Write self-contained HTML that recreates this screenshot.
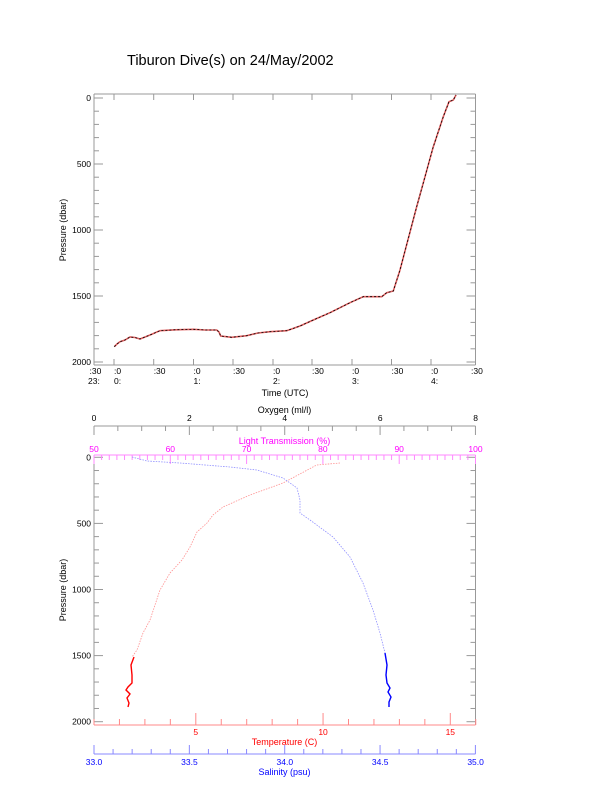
<!DOCTYPE html>
<html><head><meta charset="utf-8"><style>
html,body{margin:0;padding:0;background:#fff}
svg{display:block}
text{font-family:"Liberation Sans",Arial,sans-serif}
</style></head><body>
<svg id="s" width="612" height="785" viewBox="0 0 612 785" xmlns="http://www.w3.org/2000/svg">
<rect width="612" height="785" fill="#fff"/>
<text x="127" y="65" font-size="14.5" fill="#000">Tiburon Dive(s) on 24/May/2002</text>
<g id="g"></g>
</svg>
<script>
var g=document.getElementById('g'),h='';
function L(x1,y1,x2,y2,c,w){h+='<line x1="'+x1+'" y1="'+y1+'" x2="'+x2+'" y2="'+y2+'" stroke="'+c+'" stroke-width="'+(w||1)+'"/>';}
function T(x,y,s,c,a,fs){h+='<text x="'+x+'" y="'+y+'" font-size="'+(fs||9)+'" fill="'+(c||'#000')+'" text-anchor="'+(a||'middle')+'">'+s+'</text>';}
var X0=94,X1=475.5,gr='#999';
// top plot
L(X0,94,X1,94,gr);L(X0,365,X1,365,gr);L(X0,94,X0,365,gr);L(X1,94,X1,365,gr);
for(var p=0;p<=2000;p+=100){var y=98+p*0.132;var len=(p%500==0)?9:5;L(X0,y,X0+len,y,gr);L(X1,y,X1-len,y,gr);}
[[0,'0'],[500,'500'],[1000,'1000'],[1500,'1500'],[2000,'2000']].forEach(function(a){T(91,98+a[0]*0.132+3,a[1],'#000','end',8.5);});
var tx=[94,114,153.7,193.5,233,273,312,352,391.5,431,471];
var tl1=[':30',':0',':30',':0',':30',':0',':30',':0',':30',':0',':30'];
var tl2=['23:','0:','','1:','','2:','','3:','','4:',''];
for(var i=0;i<tx.length;i++){var x=tx[i];if(i>0&&i<10){L(x,365,x,359,gr);L(x,94,x,100,gr);}
T(i==0?89.5:x,374,tl1[i],'#000','start',8.5);if(tl2[i])T(i==0?88:x,384,tl2[i],'#000','start',8.5);}
T(285,396,'Time (UTC)','#000','middle',9);
h+='<text transform="translate(66,230) rotate(-90)" font-size="9" text-anchor="middle">Pressure (dbar)</text>';
var pts=[[114.3,346.7],[117,344],[120,341.7],[125,340],[130,337],[135,337.5],[140,339],[150,335],[160,330.7],[175,329.8],[193.3,329.3],[205,330],[216.7,330],[219,332],[220.7,336],[231.7,337.3],[246.7,335.7],[258,333],[270,331.7],[286.7,330.7],[300,326],[313.3,320],[330,312.7],[350,302.7],[363.3,296.7],[381.7,296.7],[386.7,292.7],[393.3,291],[400,270],[416.7,206.7],[433.3,146.7],[443.3,116.7],[449,101.7],[453.3,100],[456,95]];
var ps=pts.map(function(a){return a.join(',')}).join(' ');
h+='<polyline points="'+ps+'" fill="none" stroke="#e06060" stroke-width="1.6"/>';
h+='<polyline points="'+ps+'" fill="none" stroke="#000" stroke-width="0.8" stroke-dasharray="2,2"/>';
// bottom plot
var B0=455,B1=725;
L(X0,B0,X0,B1,gr);L(X1,B0,X1,B1,gr);
for(var p=0;p<=2000;p+=100){var y=457.3+p*0.1322;var len=(p%500==0)?9:5;L(X0,y,X0+len,y,gr);L(X1,y,X1-len,y,gr);}
[[0,'0'],[500,'500'],[1000,'1000'],[1500,'1500'],[2000,'2000']].forEach(function(a){T(91,457.3+a[0]*0.1322+3,a[1],'#000','end',8.5);});
h+='<text transform="translate(66,590) rotate(-90)" font-size="9" text-anchor="middle">Pressure (dbar)</text>';
// oxygen axis
L(X0,426,X1,426,gr);
for(var i=0;i<=16;i++){var x=X0+i*23.84;L(x,426,x,i%4==0?435:431,gr);}
for(var i=0;i<=4;i++)T(X0+i*95.4,421,String(i*2),'#000','middle',8.5);
T(284.5,413,'Oxygen (ml/l)','#000','middle',9);
// light transmission
L(X0,B0,X1,B0,'#ff88ff');
for(var i=0;i<=50;i++){var x=X0+i*7.63;L(x,B0,x,B0+(i%10==0?9:5),'#ff88ff');}
for(var i=0;i<=5;i++)T(X0+i*76.3,452,String(50+i*10),'#ff00ff','middle',8.5);
T(284.5,444,'Light Transmission (%)','#ff00ff','middle',9);
// temperature axis
L(X0,B1,X1,B1,'#ff8888');
for(var t=1;t<=16;t++){var x=X0+(t-1)*25.45;if(x<=X1+0.5)L(x,B1,x,B1-(t%5==0?12:6),'#ff8888');}
[5,10,15].forEach(function(t){T(X0+(t-1)*25.45,735,String(t),'#ff0000','middle',8.5);});
T(284.5,745,'Temperature (C)','#ff0000','middle',9);
// salinity
L(X0,754,X1,754,'#8888ff');
for(var i=0;i<=20;i++){var x=X0+i*19.07;L(x,754,x,754-(i%5==0?9:5),'#8888ff');}
['33.0','33.5','34.0','34.5','35.0'].forEach(function(s,i){T(X0+i*95.4,765,s,'#0000ff','middle',8.5);});
T(284.5,775,'Salinity (psu)','#0000ff','middle',9);
// temp profile
var tp=[[340,463],[316.7,465],[283,483],[250,495],[223,507],[213,515],[207,523],[197,532],[190,547],[182,560],[170,573],[160,590],[150,620],[143,633],[137,650],[132,657]];
h+='<polyline points="'+tp.join(' ')+'" fill="none" stroke="#ff9090" stroke-width="0.8" stroke-dasharray="1.5,1.2"/>';
var td=[[134,657],[131,665],[132,675],[132,683],[128,687],[126,690],[130,694],[127,698],[129,703],[128,707]];
h+='<polyline points="'+td.join(' ')+'" fill="none" stroke="#ff0000" stroke-width="1.4"/>';
var sp=[[132,457],[147,461],[180,463],[230,467],[257,470],[283,478],[297,488],[300,500],[300,513],[310,520],[333,537],[350,557],[363,583],[373,610],[380,633],[385,653]];
h+='<polyline points="'+sp.join(' ')+'" fill="none" stroke="#9090ff" stroke-width="0.8" stroke-dasharray="1.5,1.2"/>';
var sd=[[385,653],[387,665],[386,675],[387,683],[390,688],[388,692],[391,697],[389,702],[389,707]];
h+='<polyline points="'+sd.join(' ')+'" fill="none" stroke="#0000ff" stroke-width="1.4"/>';
g.innerHTML=h;
</script>
</body></html>
